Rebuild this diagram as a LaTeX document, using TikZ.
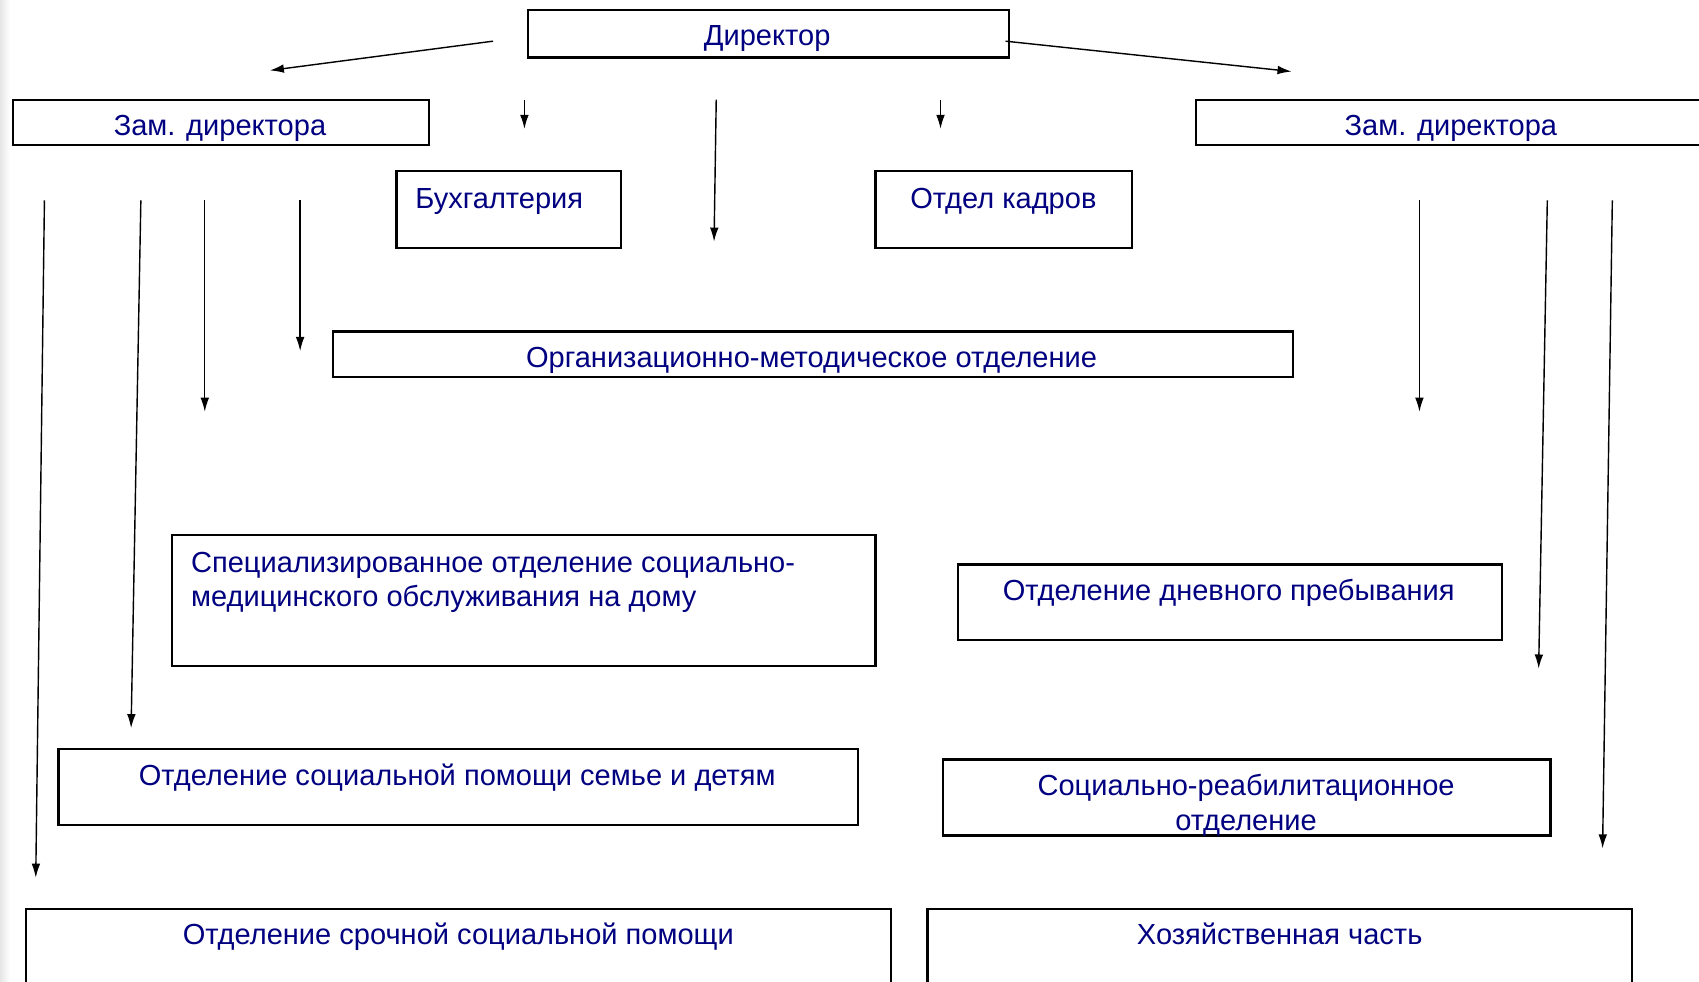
\documentclass[tikz,border=0pt]{standalone}
\usepackage{fontspec}
\setmainfont{Liberation Sans}
\usetikzlibrary{arrows.meta}
\definecolor{txtblue}{RGB}{0,0,128}
\begin{document}
\begin{tikzpicture}[x=0.5pt,y=-0.5pt,
  box/.style={draw=black, line width=1pt, rectangle, inner sep=0pt, outer sep=0pt, anchor=north west},
  lbl/.style={text=txtblue, font=\fontsize{13.4}{16}\selectfont, inner sep=0pt, anchor=base},
  lbll/.style={lbl, anchor=base west},
  arr/.style={-{Latex[length=6.5pt,width=4pt]}, line width=0.65pt}]
\useasboundingbox (0,0) rectangle (1568,906);
\fill[white] (0,0) rectangle (1568,906);
\shade[left color=black!10, right color=white] (0,0) rectangle (9,906);
% boxes
\node[box, minimum width=222pt, minimum height=22pt] (dir) at (487,9) {};
\node[box, minimum width=192pt, minimum height=21pt] (zl) at (12,92) {};
\node[box, minimum width=235pt, minimum height=21pt] (zr) at (1104,92) {};
\node[box, minimum width=103.5pt, minimum height=35.5pt] (buh) at (366,158) {};
\node[box, minimum width=118.5pt, minimum height=35.5pt] (kad) at (808,158) {};
\node[box, minimum width=443pt, minimum height=21pt] (org) at (307,306) {};
\node[box, minimum width=324.5pt, minimum height=60.5pt] (spec) at (159,494) {};
\node[box, minimum width=251pt, minimum height=35pt] (dnev) at (884,521) {};
\node[box, minimum width=369pt, minimum height=35pt] (sem) at (54,691) {};
\node[box, minimum width=280.5pt, minimum height=35pt] (reab) at (870,701) {};
\node[box, minimum width=399pt, minimum height=40pt] (sroch) at (24,839) {};
\node[box, minimum width=325pt, minimum height=40pt] (hoz) at (856,839) {};
% texts
\node[lbl] (tdir) at (708,42) {Директор};
\node[lbl] (tzl) at (203,125) {Зам. директора};
\node[lbl] (tzr) at (1339,125) {Зам. директора};
\node[lbll] (tbuh) at (383,192) {Бухгалтерия};
\node[lbl] (tkad) at (926,192) {Отдел кадров};
\node[lbl] (torg) at (749,339) {Организационно-методическое отделение};
\node[lbll] (tspec1) at (176,528) {Специализированное отделение социально-};
\node[lbll] (tspec2) at (176,560) {медицинского обслуживания на дому};
\node[lbl] (tdnev) at (1134,554) {Отделение дневного пребывания};
\node[lbl] (tsem) at (422,725) {Отделение социальной помощи семье и детям};
\node[lbl] (treab1) at (1150,734) {Социально-реабилитационное};
\node[lbl] (treab2) at (1150,766) {отделение};
\node[lbl] (tsroch) at (423,872) {Отделение срочной социальной помощи};
\node[lbl] (thoz) at (1181,872) {Хозяйственная часть};
% arrow end points
\coordinate (a1s) at (455,38);  \coordinate (a1e) at (249,65);
\coordinate (a2s) at (928,38);  \coordinate (a2e) at (1192,66);
\coordinate (a3s) at (484,92);  \coordinate (a3e) at (484,119);
\coordinate (a4s) at (661,92);  \coordinate (a4e) at (659,223);
\coordinate (a5s) at (868,92);  \coordinate (a5e) at (868,119);
\coordinate (a6s) at (41,185);  \coordinate (a6e) at (33,810);
\coordinate (a7s) at (130,185); \coordinate (a7e) at (121,672);
\coordinate (a8s) at (189,185); \coordinate (a8e) at (189,380);
\coordinate (a9s) at (277,185); \coordinate (a9e) at (277,324);
\coordinate (a10s) at (1310,185); \coordinate (a10e) at (1310,380);
\coordinate (a11s) at (1428,185); \coordinate (a11e) at (1420,617);
\coordinate (a12s) at (1488,185); \coordinate (a12e) at (1479,783);
\foreach \i in {1,...,12} { \draw[arr] (a\i s) -- (a\i e); }
\end{tikzpicture}
\end{document}
